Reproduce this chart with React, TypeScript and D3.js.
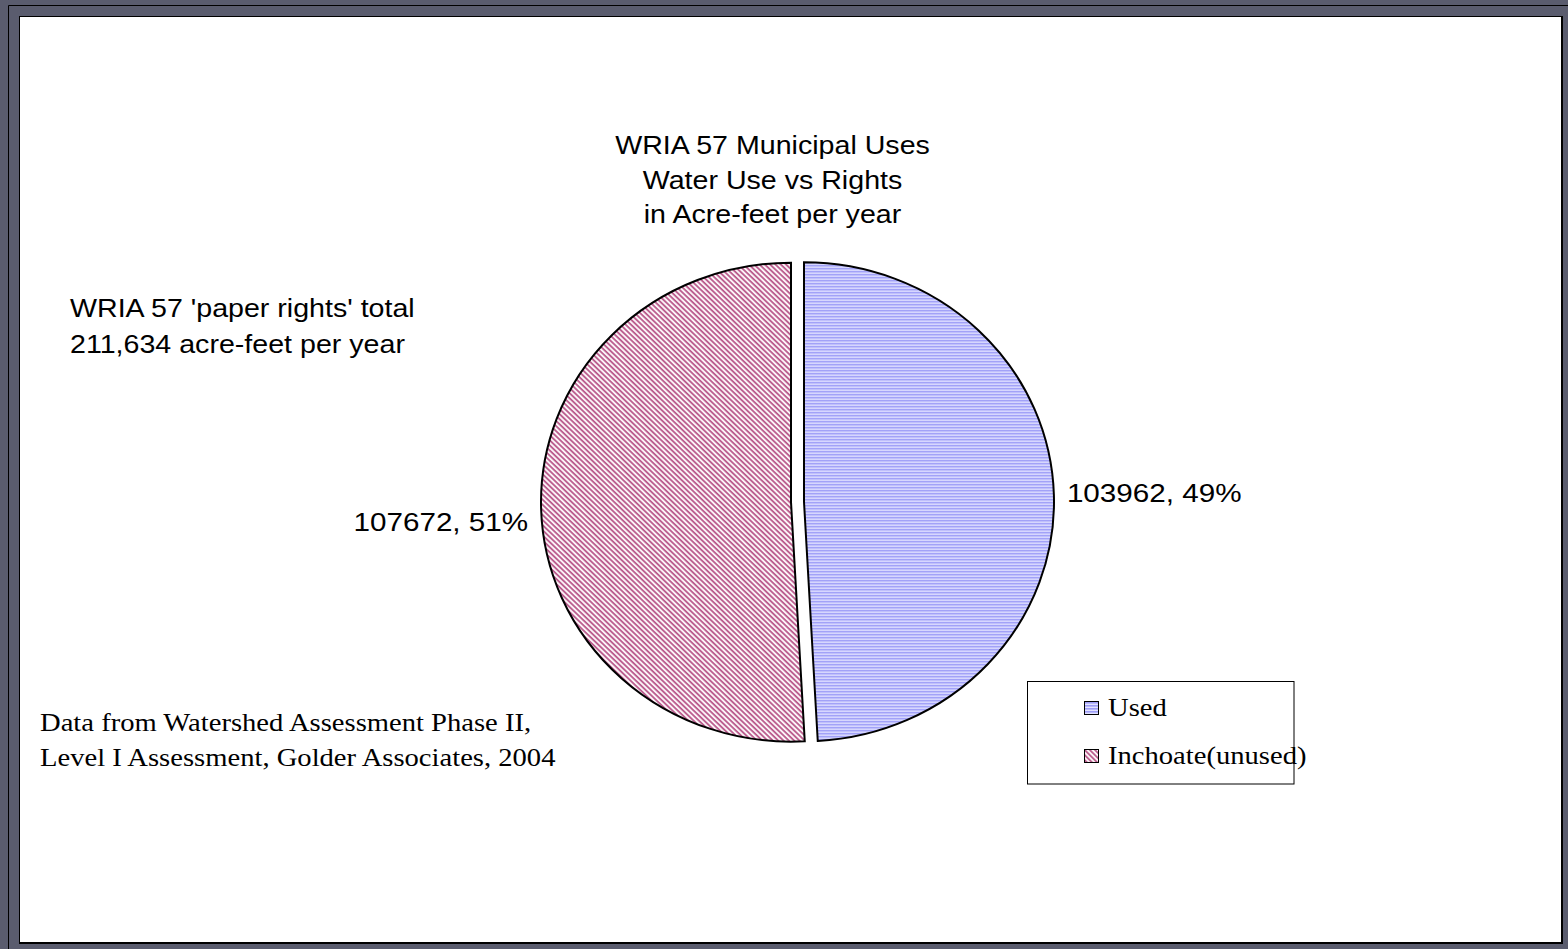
import React from 'react';
import * as d3 from 'd3';

const categories = ['Used', 'Inchoate(unused)'];
const values = [103962, 107672];
const sliceLabels = ['103962, 49%', '107672, 51%'];
const titleLines = ['WRIA 57 Municipal Uses', 'Water Use vs Rights', 'in Acre-feet per year'];
const noteLines = ["WRIA 57 'paper rights' total", '211,634 acre-feet per year'];
const sourceLines = ['Data from Watershed Assessment Phase II,', 'Level I Assessment, Golder Associates, 2004'];

const W = 1568;
const H = 949;
const SANS = '"Liberation Sans", Arial, Helvetica, sans-serif';
const SERIF = '"Liberation Serif", "Times New Roman", Times, serif';
const FS = 26;

const cx = 797.5;
const cy = 502;
const ry = 239.5;
const rx = 250;
const explode = 6.5;
const labelGap = 13;
const labelDy = [7, 22];
const legendStep = 48;

const fills = ['url(#usedPat)', 'url(#inchPat)'];

function SText({ x, y, anchor = 'start', family = SANS, sx = 1.1, children }: any) {
  return (
    <text
      transform={`translate(${x},${y}) scale(${sx},1)`}
      textAnchor={anchor}
      fontFamily={family}
      fontSize={FS}
      fill="#000"
    >
      {children}
    </text>
  );
}

export default function App() {
  const pie = d3.pie<number>().sort(null).value((d) => d);
  const arcs = pie(values);
  const arcGen = d3.arc<d3.PieArcDatum<number>>().innerRadius(0).outerRadius(ry);
  const sxPie = rx / ry;

  return (
    <div style={{ position: 'absolute', left: 0, top: 0, width: W, height: H }}>
      <svg width={W} height={H} style={{ display: 'block' }}>
        <defs>
          <pattern id="usedPat" patternUnits="userSpaceOnUse" width={6} height={3}>
            <rect width={6} height={3} fill="#e2e2ff" />
            <rect width={6} height={1.6} fill="#9d9df7" />
          </pattern>
          <pattern
            id="inchPat"
            patternUnits="userSpaceOnUse"
            width={6}
            height={3.6}
            patternTransform="rotate(45)"
          >
            <rect width={6} height={3.6} fill="#fbf4f7" />
            <rect width={6} height={1.7} fill="#b9588b" />
          </pattern>
        </defs>
        {/* frame */}
        <rect x={0} y={0} width={W} height={H} fill="#5a5c6e" />
        <path d={`M8.5,${H} V5.5 H${W}`} fill="none" stroke="#000" strokeWidth={1} />
        <rect x={19} y={16} width={1544} height={928} fill="#000" />
        <rect x={20} y={17} width={1541} height={925} fill="#fff" />

        {/* title */}
        {titleLines.map((t, i) => (
          <SText key={t} x={772.5} y={154 + i * 34.5} anchor="middle">
            {t}
          </SText>
        ))}

        {/* note */}
        {noteLines.map((t, i) => (
          <SText key={t} x={70} y={317 + i * 36.3}>
            {t}
          </SText>
        ))}

        {/* source */}
        {sourceLines.map((t, i) => (
          <SText key={t} x={40} y={731 + i * 35} family={SERIF} sx={1.1}>
            {t}
          </SText>
        ))}

        {/* pie */}
        {arcs.map((a, i) => {
          const mid = (a.startAngle + a.endAngle) / 2;
          const dx = Math.sin(mid) * explode;
          const dy = -Math.cos(mid) * explode;
          return (
            <g key={categories[i]} transform={`translate(${cx + dx},${cy + dy}) scale(${sxPie},1)`}>
              <path
                d={arcGen(a) || ''}
                fill={fills[i]}
                stroke="#000"
                strokeWidth={2}
                strokeLinejoin="miter"
                vectorEffect="non-scaling-stroke"
              />
            </g>
          );
        })}

        {/* slice labels */}
        {arcs.map((a, i) => {
          const mid = (a.startAngle + a.endAngle) / 2;
          const s = Math.sin(mid);
          const lx = cx + s * (rx + explode + labelGap);
          const ly = cy - Math.cos(mid) * ry + labelDy[i];
          return (
            <SText key={sliceLabels[i]} x={lx} y={ly} anchor={s >= 0 ? 'start' : 'end'} sx={1.14}>
              {sliceLabels[i]}
            </SText>
          );
        })}

        {/* legend */}
        <rect x={1027.5} y={681.5} width={266.5} height={102.5} fill="#fff" stroke="#000" strokeWidth={1} />
        {categories.map((c, i) => (
          <g key={c}>
            <rect
              x={1084.5}
              y={701.5 + i * legendStep}
              width={14}
              height={13}
              fill={fills[i]}
              stroke="#000"
              strokeWidth={1}
            />
            <SText x={1108} y={715.7 + i * legendStep} family={SERIF} sx={1.1}>
              {c}
            </SText>
          </g>
        ))}
      </svg>
    </div>
  );
}
